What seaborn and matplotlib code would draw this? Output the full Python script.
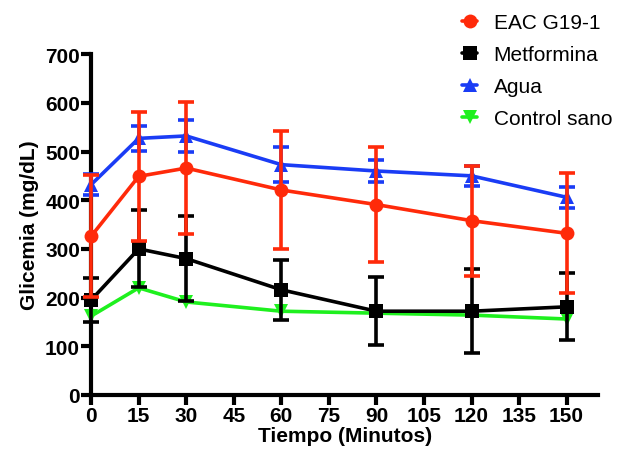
import matplotlib
matplotlib.use("Agg")
import matplotlib.pyplot as plt
import seaborn as sns
import pandas as pd
import numpy as np

tiempo = [0, 15, 30, 60, 90, 120, 150]
series_names = ["EAC G19-1", "Metformina", "Agua", "Control sano"]
eac_mean = [326, 449, 466, 421, 391, 358, 332]
eac_err = [125, 133, 135, 122, 118, 113, 123]
met_mean = [195, 300, 280, 216, 172, 172, 181]
met_err = [45, 79, 88, 62, 70, 86, 69]
agua_mean = [432, 527, 532, 473, 460, 450, 406]
agua_err = [22, 25, 33, 36, 23, 20, 22]
ctrl_mean = [162, 220, 191, 172, 168, 164, 156]
ctrl_err = [0, 0, 0, 0, 0, 0, 0]
x_ticks = [0, 15, 30, 45, 60, 75, 90, 105, 120, 135, 150]
y_ticks = [0, 100, 200, 300, 400, 500, 600, 700]

colors = {"EAC G19-1": "#FF2A0A", "Metformina": "#000000",
          "Agua": "#1A3CF5", "Control sano": "#1EF01E"}
markers = {"EAC G19-1": "o", "Metformina": "s", "Agua": "^", "Control sano": "v"}
zorders = {"EAC G19-1": 6, "Metformina": 4, "Agua": 5, "Control sano": 3}

means = [eac_mean, met_mean, agua_mean, ctrl_mean]
errs = [eac_err, met_err, agua_err, ctrl_err]

rows = []
for name, m in zip(series_names, means):
    for t, v in zip(tiempo, m):
        rows.append({"Tiempo": t, "Glicemia": v, "Grupo": name})
df = pd.DataFrame(rows)

sns.set_theme(style="ticks")
plt.rcParams['font.family'] = ['Liberation Sans', 'DejaVu Sans']
plt.rcParams['text.color'] = 'black'
plt.rcParams['axes.labelcolor'] = 'black'
plt.rcParams['xtick.color'] = 'black'
plt.rcParams['ytick.color'] = 'black'

fig = plt.figure(figsize=(6.2, 4.52), dpi=100)
ax = fig.add_axes([0.147, 0.124, 0.818, 0.754])

for name, m, e in zip(series_names, means, errs):
    z = zorders[name]
    if any(e):
        ax.errorbar(tiempo, m, yerr=e, fmt="none", ecolor=colors[name],
                    elinewidth=2.6, capsize=6, capthick=2.6, zorder=z, clip_on=False)
    sub = df[df["Grupo"] == name]
    sns.lineplot(data=sub, x="Tiempo", y="Glicemia", ax=ax, color=colors[name],
                 marker=markers[name], markersize=10, markeredgewidth=0,
                 linewidth=2.6, label=name, zorder=z + 0.5, clip_on=False)

ax.set_xlim(0, 160)
ax.set_ylim(0, 700)
ax.set_xticks(x_ticks, labels=[str(v) for v in x_ticks], fontsize=15, fontweight="bold")
ax.set_yticks(y_ticks, labels=[str(v) for v in y_ticks], fontsize=15, fontweight="bold")
ax.set_xlabel("Tiempo (Minutos)", fontsize=15, fontweight="bold", labelpad=1)
ax.set_ylabel("Glicemia (mg/dL)", fontsize=15, fontweight="bold", labelpad=4)
ax.tick_params(axis="both", direction="out", length=7, width=3, color="black", pad=1)
for s in ["top", "right"]:
    ax.spines[s].set_visible(False)
for s in ["left", "bottom"]:
    ax.spines[s].set_linewidth(3)
    ax.spines[s].set_color("black")

leg = ax.legend(loc="upper left", bbox_to_anchor=(0.732, 1.12), frameon=False,
                fontsize=15, handlelength=0.7, handletextpad=0.8, labelspacing=0.62,
                borderaxespad=0, borderpad=0)

fig.savefig("out.png", dpi=100)
